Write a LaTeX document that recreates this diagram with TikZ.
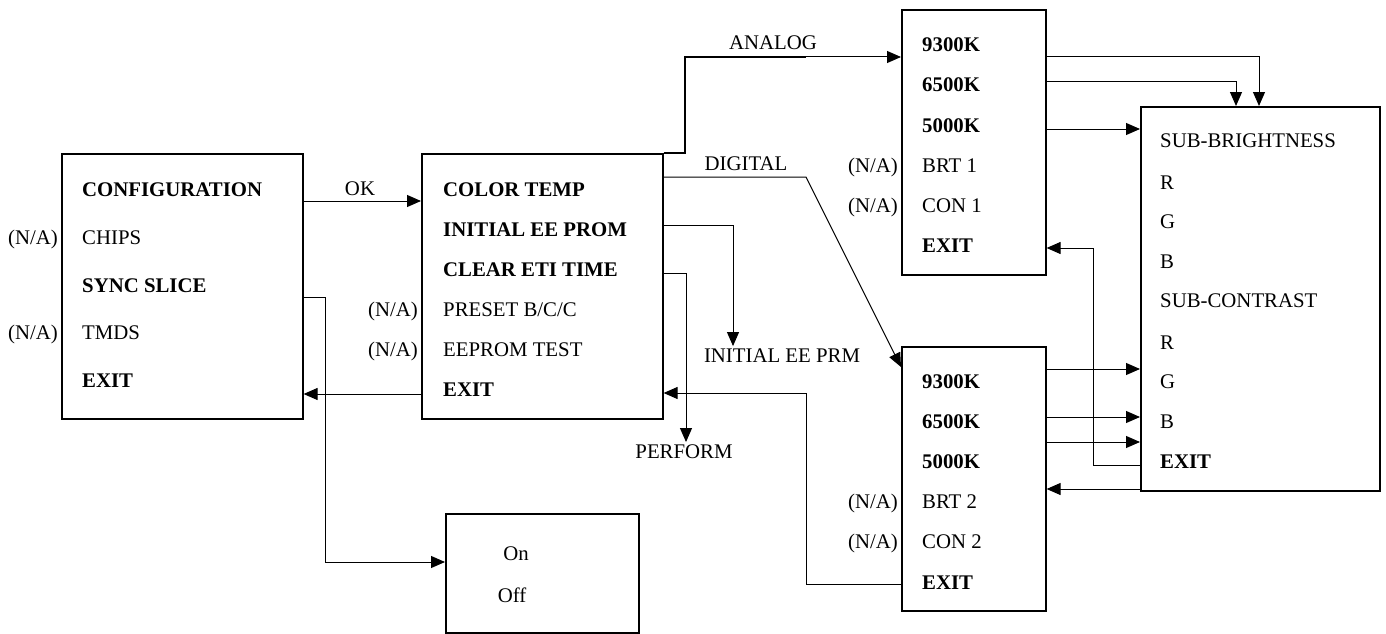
\documentclass[tikz,border=0pt]{standalone}
\usepackage{fontspec}
\setmainfont{Liberation Serif}
\usetikzlibrary{arrows.meta}
\begin{document}
\begin{tikzpicture}[x=1pt,y=-1pt,
  box/.style={draw,line width=1.6pt,anchor=north west,inner sep=0pt,minimum width=#1},
  txt/.style={anchor=base west,inner sep=0pt,font=\fontsize{20.8}{25}\selectfont},
  btxt/.style={txt,font=\fontsize{20.8}{25}\selectfont\bfseries},
  na/.style={anchor=base east,inner sep=0pt,font=\fontsize{20.8}{25}\selectfont},
  lbl/.style={anchor=base,inner sep=0pt,font=\fontsize{20.8}{25}\selectfont},
  conn/.style={line width=1pt,-{Triangle[length=14pt,width=12pt]}},
  thickline/.style={line width=1.6pt}]
\useasboundingbox (0,0) rectangle (1386,634);
% boxes
\node[box=241pt,minimum height=265pt] (b1) at (61,153) {};
\node[box=241pt,minimum height=265pt] (b2) at (421,153) {};
\node[box=144pt,minimum height=265pt] (b3) at (901,9) {};
\node[box=144pt,minimum height=264pt] (b4) at (901,346) {};
\node[box=239pt,minimum height=384pt] (b5) at (1140,106) {};
\node[box=193pt,minimum height=119pt] (b6) at (445,513) {};
% box 1 texts
\node[btxt] (t11) at (82,196) {CONFIGURATION};
\node[txt]  (t12) at (82,244) {CHIPS};
\node[btxt] (t13) at (82,292) {SYNC SLICE};
\node[txt]  (t14) at (82,339) {TMDS};
\node[btxt] (t15) at (82,387) {EXIT};
\node[na] (n12) at (58,244) {(N/A)};
\node[na] (n14) at (58,339) {(N/A)};
% box 2 texts
\node[btxt] (t21) at (443,196) {COLOR TEMP};
\node[btxt] (t22) at (443,236) {INITIAL EE PROM};
\node[btxt] (t23) at (443,276) {CLEAR ETI TIME};
\node[txt]  (t24) at (443,316) {PRESET B/C/C};
\node[txt]  (t25) at (443,356) {EEPROM TEST};
\node[btxt] (t26) at (443,396) {EXIT};
\node[na] (n24) at (418,316) {(N/A)};
\node[na] (n25) at (418,356) {(N/A)};
% box 3 texts
\node[btxt] (t31) at (922,52) {9300K};
\node[btxt] (t32) at (922,92) {6500K};
\node[btxt] (t33) at (922,132) {5000K};
\node[txt]  (t34) at (922,172) {BRT 1};
\node[txt]  (t35) at (922,212) {CON 1};
\node[btxt] (t36) at (922,252) {EXIT};
\node[na] (n34) at (898,172) {(N/A)};
\node[na] (n35) at (898,212) {(N/A)};
% box 4 texts
\node[btxt] (t41) at (922,388) {9300K};
\node[btxt] (t42) at (922,428) {6500K};
\node[btxt] (t43) at (922,468) {5000K};
\node[txt]  (t44) at (922,508) {BRT 2};
\node[txt]  (t45) at (922,548) {CON 2};
\node[btxt] (t46) at (922,589) {EXIT};
\node[na] (n44) at (898,508) {(N/A)};
\node[na] (n45) at (898,548) {(N/A)};
% box 5 texts
\node[txt]  (t51) at (1160,147) {SUB-BRIGHTNESS};
\node[txt]  (t52) at (1160,189) {R};
\node[txt]  (t53) at (1160,228) {G};
\node[txt]  (t54) at (1160,268) {B};
\node[txt]  (t55) at (1160,307) {SUB-CONTRAST};
\node[txt]  (t56) at (1160,349) {R};
\node[txt]  (t57) at (1160,388) {G};
\node[txt]  (t58) at (1160,428) {B};
\node[btxt] (t59) at (1160,468) {EXIT};
% box 6 texts
\node[lbl] (t61) at (516,560) {On};
\node[lbl] (t62) at (512,602) {Off};
% labels
\node[lbl] (lok) at (360,195) {OK};
\node[lbl] (lan) at (773,50) {ANALOG};
\node[lbl] (ldi) at (746,170) {DIGITAL};
\node[lbl,inner sep=2pt] (lin) at (782,362) {INITIAL EE PRM};
\node[lbl,inner sep=2pt] (lpe) at (684,458) {PERFORM};
% connectors
\draw[conn] (b1.east |- 0,201) -- (b2.west |- 0,201);
\draw[conn] (b2.west |- 0,394) -- (b1.east |- 0,394);
\draw[conn] (b1.east |- 0,297) -- (325,297) -- (325,562) -- (b6.west |- 0,562);
\draw[conn] (b2.north east) -- (685,153) -- (685,57) -- (b3.west |- 0,57);
\draw[thickline] (b2.north east) -- (685,153) -- (685,57) -- (806,57);
\draw[conn] (b2.east |- 0,177) -- (806,177) -- (b4.west |- 0,367);
\draw[conn] (b2.east |- 0,225) -| (lin.north -| 733,0);
\draw[conn] (b2.east |- 0,273) -| (lpe.north -| 686,0);
\draw[conn] (b4.west |- 0,584) -- (806,584) -- (806,393) -- (b2.east |- 0,393);
\draw[conn] (b3.east |- 0,57) -| (b5.north -| 1259,0);
\draw[conn] (b3.east |- 0,81) -| (b5.north -| 1236,0);
\draw[conn] (b3.east |- 0,129) -- (b5.west |- 0,129);
\draw[conn] (b5.west |- 0,465) -- (1093,465) -- (1093,248) -- (b3.east |- 0,248);
\draw[conn] (b4.east |- 0,369) -- (b5.west |- 0,369);
\draw[conn] (b4.east |- 0,417) -- (b5.west |- 0,417);
\draw[conn] (b4.east |- 0,442) -- (b5.west |- 0,442);
\draw[conn] (b5.west |- 0,489) -- (b4.east |- 0,489);
\end{tikzpicture}
\end{document}
